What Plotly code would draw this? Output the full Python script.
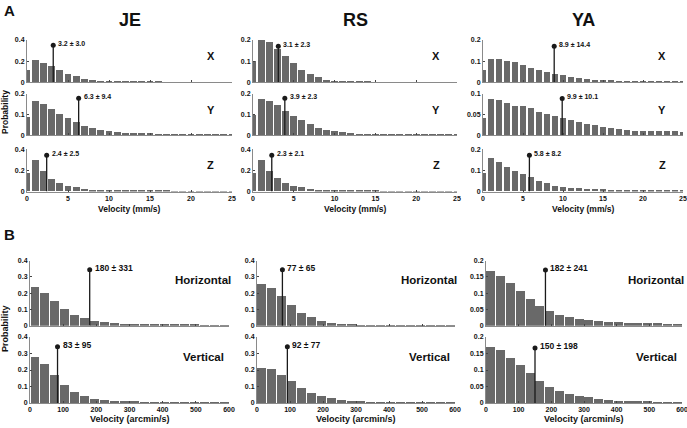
import plotly.graph_objects as go

W, H = 687, 428

subjects = ["JE", "RS", "YA"]
a_components = ["X", "Y", "Z"]
b_components = ["Horizontal", "Vertical"]

# bin centres
a_centers = list(range(0, 26))              # mm/s
b_centers = list(range(15, 600, 30))        # arcmin/s

# ---- Panel A: probability per 1 mm/s bin ----
je_x = [0.117, 0.210, 0.187, 0.155, 0.117, 0.082, 0.057, 0.035, 0.022, 0.015, 0.010, 0.007, 0.005,
        0.004, 0.004, 0.003, 0.003, 0.002, 0.002, 0.002, 0.002, 0.001, 0.001, 0.001, 0.001, 0.001]
je_y = [0.089, 0.167, 0.151, 0.128, 0.102, 0.083, 0.065, 0.047, 0.034, 0.024, 0.021, 0.016, 0.013,
        0.011, 0.010, 0.009, 0.008, 0.007, 0.006, 0.006, 0.005, 0.005, 0.005, 0.004, 0.004, 0.004]
je_z = [0.171, 0.298, 0.193, 0.114, 0.076, 0.050, 0.038, 0.022, 0.015, 0.010, 0.007, 0.005, 0.004,
        0.003, 0.003, 0.002, 0.002, 0.002, 0.001, 0.001, 0.001, 0.001, 0.001, 0.001, 0.001, 0.001]
rs_x = [0.100, 0.200, 0.189, 0.159, 0.124, 0.090, 0.058, 0.039, 0.025, 0.011, 0.008, 0.005, 0.003,
        0.002, 0.002, 0.001, 0.001, 0.001, 0.001, 0.001, 0.001, 0.001, 0.001, 0.001, 0.001, 0.001]
rs_y = [0.098, 0.176, 0.166, 0.145, 0.117, 0.091, 0.075, 0.055, 0.036, 0.026, 0.021, 0.015, 0.010,
        0.008, 0.007, 0.006, 0.005, 0.004, 0.004, 0.003, 0.003, 0.003, 0.002, 0.002, 0.002, 0.002]
rs_z = [0.176, 0.295, 0.191, 0.122, 0.078, 0.050, 0.038, 0.025, 0.015, 0.010, 0.007, 0.005, 0.003,
        0.002, 0.002, 0.002, 0.001, 0.001, 0.001, 0.001, 0.001, 0.001, 0.001, 0.001, 0.001, 0.001]
ya_x = [0.056, 0.112, 0.110, 0.101, 0.094, 0.082, 0.069, 0.058, 0.050, 0.040, 0.034, 0.026, 0.021,
        0.016, 0.011, 0.011, 0.010, 0.008, 0.007, 0.007, 0.006, 0.006, 0.005, 0.005, 0.004, 0.004]
ya_y = [0.041, 0.089, 0.085, 0.077, 0.071, 0.071, 0.065, 0.057, 0.051, 0.046, 0.042, 0.036, 0.032,
        0.028, 0.024, 0.020, 0.017, 0.015, 0.012, 0.011, 0.011, 0.010, 0.009, 0.009, 0.009, 0.008]
ya_z = [0.087, 0.159, 0.140, 0.115, 0.098, 0.082, 0.065, 0.049, 0.040, 0.027, 0.022, 0.017, 0.014,
        0.012, 0.011, 0.009, 0.007, 0.006, 0.005, 0.005, 0.004, 0.003, 0.003, 0.003, 0.002, 0.002]

# ---- Panel B: probability per 30 arcmin/s bin ----
je_h = [0.237, 0.202, 0.151, 0.106, 0.069, 0.047, 0.029, 0.022, 0.016, 0.014, 0.012, 0.010,
        0.009, 0.008, 0.008, 0.007, 0.007, 0.006, 0.006, 0.006]
je_v = [0.277, 0.234, 0.168, 0.107, 0.067, 0.040, 0.024, 0.016, 0.012, 0.010, 0.008, 0.006,
        0.005, 0.004, 0.004, 0.003, 0.003, 0.002, 0.002, 0.002]
rs_h = [0.259, 0.235, 0.186, 0.127, 0.082, 0.053, 0.029, 0.020, 0.014, 0.010, 0.006, 0.005,
        0.004, 0.003, 0.003, 0.002, 0.002, 0.002, 0.001, 0.001]
rs_v = [0.212, 0.204, 0.168, 0.133, 0.089, 0.063, 0.042, 0.028, 0.020, 0.012, 0.008, 0.006,
        0.004, 0.003, 0.003, 0.002, 0.002, 0.001, 0.001, 0.001]
ya_h = [0.168, 0.154, 0.133, 0.109, 0.084, 0.061, 0.045, 0.035, 0.027, 0.021, 0.019, 0.014,
        0.013, 0.011, 0.010, 0.008, 0.008, 0.008, 0.007, 0.007]
ya_v = [0.170, 0.161, 0.137, 0.115, 0.091, 0.067, 0.047, 0.035, 0.028, 0.020, 0.017, 0.013,
        0.008, 0.007, 0.006, 0.005, 0.004, 0.003, 0.002, 0.002]

# mean ± sd and marker heights
a_mean = [[3.2, 6.3, 2.4], [3.1, 3.9, 2.3], [8.9, 9.9, 5.8]]
a_sd = [[3.0, 9.4, 2.5], [2.3, 2.3, 2.1], [14.4, 10.1, 8.2]]
a_mark = [[0.35, 0.179, 0.343], [0.171, 0.179, 0.343], [0.171, 0.089, 0.172]]
b_mean = [[180, 83], [77, 92], [182, 150]]
b_sd = [[331, 95], [65, 77], [241, 198]]
b_mark = [[0.345, 0.341], [0.345, 0.341], [0.171, 0.167]]

# y axis ticks
a_ymax = [[0.4, 0.2, 0.4], [0.2, 0.2, 0.4], [0.2, 0.1, 0.2]]
a_yticks = [[[0, 0.2, 0.4], [0, 0.1, 0.2], [0, 0.2, 0.4]],
            [[0, 0.1, 0.2], [0, 0.1, 0.2], [0, 0.2, 0.4]],
            [[0, 0.1, 0.2], [0, 0.05, 0.1], [0, 0.1, 0.2]]]
b_ymax = [[0.4, 0.4], [0.4, 0.4], [0.2, 0.2]]
b_yticks = [[[0, 0.1, 0.2, 0.3, 0.4]] * 2, [[0, 0.1, 0.2, 0.3, 0.4]] * 2,
            [[0, 0.05, 0.1, 0.15, 0.2]] * 2]
a_xticks = [0, 5, 10, 15, 20, 25]
b_xticks = [0, 100, 200, 300, 400, 500, 600]

a_data = [[je_x, je_y, je_z], [rs_x, rs_y, rs_z], [ya_x, ya_y, ya_z]]
b_data = [[je_h, je_v], [rs_h, rs_v], [ya_h, ya_v]]

# ---- layout geometry (pixels) ----
a_cols = [(27, 232), (253, 457), (483, 683)]
a_rows = [(40, 82.3), (94, 135.2), (149.3, 191.5)]
b_cols = [(30, 229), (257, 455), (486, 682)]
b_rows = [(260.7, 325.7), (337, 403)]

BAR = "#696969"
LINE = "#1a1a1a"
FONT = "Liberation Sans, Arial, Helvetica, sans-serif"


def fmt(v):
    return ("%g" % v)


fig = go.Figure()
layout = dict(width=W, height=H, margin=dict(l=0, r=0, t=0, b=0, autoexpand=False),
              paper_bgcolor="white", plot_bgcolor="white", showlegend=False,
              annotations=[], bargap=0)
idx = 0


def add_panel(xs, ys, width, xr, xt, show_xlabels, ymax, yt, colpx, rowpx,
              mean, text, mark, tsize):
    global idx
    idx += 1
    sx = "" if idx == 1 else str(idx)
    xa, ya = "x" + sx, "y" + sx
    fig.add_trace(go.Bar(x=xs, y=ys, width=width, marker=dict(color=BAR, line=dict(width=0)),
                         xaxis=xa, yaxis=ya, hoverinfo="skip"))
    fig.add_trace(go.Scatter(x=[mean, mean], y=[0, mark], mode="lines",
                             line=dict(color=LINE, width=1.3), xaxis=xa, yaxis=ya,
                             hoverinfo="skip"))
    fig.add_trace(go.Scatter(x=[mean], y=[mark], mode="markers",
                             marker=dict(color=LINE, size=5), xaxis=xa, yaxis=ya,
                             hoverinfo="skip"))
    layout["annotations"].append(dict(x=mean, y=mark, xref=xa, yref=ya, text=text,
                                      showarrow=False, xanchor="left", yanchor="middle",
                                      xshift=3, yshift=2,
                                      font=dict(family=FONT, size=tsize, color="#111", weight="bold")))
    layout["xaxis" + sx] = dict(domain=[colpx[0] / W, colpx[1] / W], anchor=ya, range=xr,
                                tickvals=xt, ticktext=[fmt(v) for v in xt],
                                showticklabels=show_xlabels, ticks="inside", ticklen=2,
                                tickcolor="#444", showline=True, linecolor="#8a8a8a",
                                linewidth=1, showgrid=False, zeroline=False, fixedrange=True,
                                automargin=False, ticklabeloverflow="allow",
                                tickfont=dict(family=FONT, size=7, color="#111", weight="bold"))
    layout["yaxis" + sx] = dict(domain=[1 - rowpx[1] / H, 1 - rowpx[0] / H], anchor=xa,
                                range=[0, ymax], tickvals=yt, ticktext=[fmt(v) for v in yt],
                                ticks="inside", ticklen=2, tickcolor="#444", showline=True,
                                linecolor="#8a8a8a", linewidth=1, showgrid=False,
                                zeroline=False, fixedrange=True, automargin=False,
                                ticklabeloverflow="allow",
                                tickfont=dict(family=FONT, size=7, color="#111", weight="bold"))


for s in range(3):
    for r in range(3):
        add_panel(a_centers, a_data[s][r], 0.85, [0, 25], a_xticks, r == 2,
                  a_ymax[s][r], a_yticks[s][r], a_cols[s], a_rows[r],
                  a_mean[s][r], "%.1f ± %.1f" % (a_mean[s][r], a_sd[s][r]),
                  a_mark[s][r], 7)
        layout["annotations"].append(dict(
            x=(a_cols[s][1] - 21) / W, y=1 - (a_rows[r][0] + 0.38 * (a_rows[r][1] - a_rows[r][0])) / H,
            xref="paper", yref="paper", text=a_components[r], showarrow=False,
            xanchor="center", yanchor="middle",
            font=dict(family=FONT, size=11, color="#111", weight="bold")))
    for r in range(2):
        add_panel(b_centers, b_data[s][r], 27, [0, 600], b_xticks, r == 1,
                  b_ymax[s][r], b_yticks[s][r], b_cols[s], b_rows[r],
                  b_mean[s][r], "%d ± %d" % (b_mean[s][r], b_sd[s][r]),
                  b_mark[s][r], 8.5)
        layout["annotations"].append(dict(
            x=(b_cols[s][1] - 26) / W, y=1 - (b_rows[r][0] + 0.3 * (b_rows[r][1] - b_rows[r][0])) / H,
            xref="paper", yref="paper", text=b_components[r], showarrow=False,
            xanchor="center", yanchor="middle",
            font=dict(family=FONT, size=11.5, color="#111", weight="bold")))
    layout["annotations"].append(dict(
        x=(a_cols[s][0] + a_cols[s][1]) / 2 / W, y=1 - 20 / H, xref="paper", yref="paper",
        text=subjects[s], showarrow=False, xanchor="center", yanchor="middle",
        font=dict(family=FONT, size=18, color="#111", weight="bold")))
    layout["annotations"].append(dict(
        x=(a_cols[s][0] + a_cols[s][1]) / 2 / W, y=1 - 208.5 / H, xref="paper", yref="paper",
        text="Velocity (mm/s)", showarrow=False, xanchor="center", yanchor="middle",
        font=dict(family=FONT, size=8.5, color="#111", weight="bold")))
    layout["annotations"].append(dict(
        x=(b_cols[s][0] + b_cols[s][1]) / 2 / W, y=1 - 419 / H, xref="paper", yref="paper",
        text="Velocity (arcmin/s)", showarrow=False, xanchor="center", yanchor="middle",
        font=dict(family=FONT, size=9, color="#111", weight="bold")))

for letter, yy in (("A", 10.5), ("B", 234)):
    layout["annotations"].append(dict(
        x=9.5 / W, y=1 - yy / H, xref="paper", yref="paper", text=letter, showarrow=False,
        xanchor="center", yanchor="middle",
        font=dict(family=FONT, size=15, color="#111", weight="bold")))
for yy, sz in ((112, 8.5), (329, 9)):
    layout["annotations"].append(dict(
        x=5 / W, y=1 - yy / H, xref="paper", yref="paper", text="Probability",
        showarrow=False, textangle=-90, xanchor="center", yanchor="middle",
        font=dict(family=FONT, size=sz, color="#111", weight="bold")))

fig.update_layout(**layout)
fig.write_html("out.html", config={"displayModeBar": False, "responsive": False},
               post_script="document.body.style.margin='0';document.body.style.overflow='hidden';")
